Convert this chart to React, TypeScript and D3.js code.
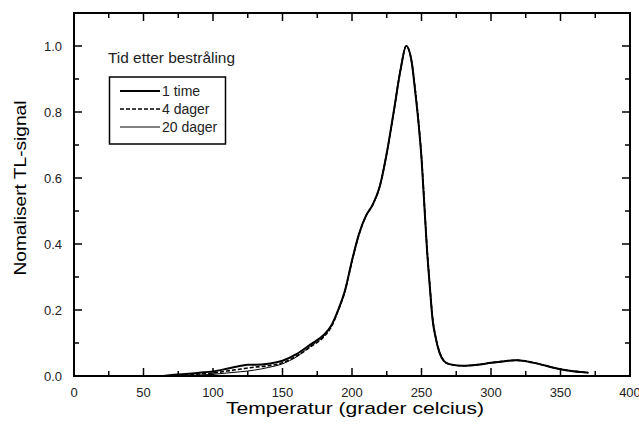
import React from 'react';
import * as d3 from 'd3';

// temperature (°C) and normalised signal
const temps1 = [55, 62, 70, 80, 90, 100, 110, 120, 125, 130, 140, 150, 160, 170, 180, 185, 190, 195, 200, 205, 210, 215, 220, 225, 230, 235, 239, 243, 245, 248, 250, 252, 254, 256, 258, 260, 263, 266, 270, 280, 290, 300, 310, 318, 325, 335, 345, 355, 365, 370];
const time1 = [0, 0, 0.003, 0.006, 0.01, 0.014, 0.022, 0.031, 0.034, 0.034, 0.037, 0.046, 0.066, 0.095, 0.126, 0.152, 0.2, 0.26, 0.35, 0.43, 0.485, 0.52, 0.575, 0.675, 0.8, 0.93, 1.0, 0.95, 0.88, 0.76, 0.66, 0.52, 0.38, 0.27, 0.17, 0.12, 0.07, 0.046, 0.036, 0.031, 0.034, 0.04, 0.045, 0.048, 0.045, 0.036, 0.025, 0.017, 0.012, 0.01];

const temps4 = [62, 70, 80, 90, 100, 110, 120, 125, 130, 140, 150, 160, 170, 180, 185, 190, 195, 200, 205, 210, 215, 220, 225, 230, 235, 239, 243, 245, 248, 250, 252, 254, 256, 258, 260, 263, 266, 270, 280, 290, 300, 310, 318, 325, 335, 345, 355, 365, 370];
const days4 = [0, 0.001, 0.003, 0.006, 0.009, 0.015, 0.021, 0.024, 0.027, 0.031, 0.04, 0.06, 0.088, 0.12, 0.148, 0.198, 0.258, 0.348, 0.428, 0.484, 0.52, 0.575, 0.675, 0.8, 0.93, 1.0, 0.95, 0.885, 0.765, 0.665, 0.525, 0.385, 0.275, 0.175, 0.122, 0.072, 0.047, 0.036, 0.031, 0.034, 0.04, 0.045, 0.048, 0.045, 0.036, 0.025, 0.017, 0.012, 0.01];

const temps20 = [70, 80, 90, 100, 110, 120, 125, 130, 140, 150, 160, 170, 180, 185, 190, 195, 200, 205, 210, 215, 220, 225, 230, 235, 239, 243, 245, 248, 250, 252, 254, 256, 258, 260, 263, 266, 270, 280, 290, 300, 310, 318, 325, 335, 345, 355, 365, 370];
const days20 = [0, 0.001, 0.003, 0.005, 0.009, 0.013, 0.015, 0.018, 0.026, 0.037, 0.058, 0.09, 0.122, 0.15, 0.197, 0.258, 0.348, 0.43, 0.485, 0.52, 0.575, 0.675, 0.8, 0.93, 1.0, 0.95, 0.882, 0.762, 0.662, 0.522, 0.382, 0.272, 0.172, 0.12, 0.07, 0.046, 0.036, 0.031, 0.034, 0.04, 0.045, 0.048, 0.045, 0.036, 0.025, 0.017, 0.012, 0.01];

const xTicks = [0, 50, 100, 150, 200, 250, 300, 350, 400];
const xMinor = [25, 75, 125, 175, 225, 275, 325, 375];
const yTicks = [0, 0.2, 0.4, 0.6, 0.8, 1.0];
const yMinor = [0.1, 0.3, 0.5, 0.7, 0.9];

const legendTitle = 'Tid etter bestråling';
const seriesNames = ['1 time', '4 dager', '20 dager'];

const FONT = '"Liberation Sans", Arial, sans-serif';

export default function App() {
  const W = 639, H = 432;
  const m = { left: 74, right: 9, top: 13, bottom: 56 };

  const x = d3.scaleLinear().domain([0, 400]).range([m.left, W - m.right]);
  const y = d3.scaleLinear().domain([0, 1.1]).range([H - m.bottom, m.top]);

  const line = d3.line<[number, number]>()
    .x(d => x(d[0]))
    .y(d => y(d[1]))
    .curve(d3.curveMonotoneX);

  const series = [
    { pts: temps1.map((t, i) => [t, time1[i]] as [number, number]), width: 2, dash: undefined },
    { pts: temps4.map((t, i) => [t, days4[i]] as [number, number]), width: 1.6, dash: '4,2' },
    { pts: temps20.map((t, i) => [t, days20[i]] as [number, number]), width: 1, dash: undefined },
  ];

  const x0 = x(0), x1 = x(400), y0 = y(0), y1 = y(1.1);
  const major = 8, minor = 5;

  return (
    <svg width={W} height={H} style={{ position: 'absolute', left: 0, top: 0, background: '#fff' }}
      fontFamily={FONT}>
      {/* curves */}
      {series.map((s, i) => (
        <path key={i} d={line(s.pts) || ''} fill="none" stroke="#000"
          strokeWidth={s.width} strokeDasharray={s.dash} />
      ))}

      {/* ticks, all inward on the four sides */}
      <g stroke="#000" strokeWidth={1.5}>
        {xTicks.map(t => (
          <g key={'xt' + t}>
            <line x1={x(t)} x2={x(t)} y1={y0} y2={y0 - major} />
            <line x1={x(t)} x2={x(t)} y1={y1} y2={y1 + major} />
          </g>
        ))}
        {xMinor.map(t => (
          <g key={'xm' + t}>
            <line x1={x(t)} x2={x(t)} y1={y0} y2={y0 - minor} />
            <line x1={x(t)} x2={x(t)} y1={y1} y2={y1 + minor} />
          </g>
        ))}
        {yTicks.map(t => (
          <g key={'yt' + t}>
            <line x1={x0} x2={x0 + major} y1={y(t)} y2={y(t)} />
            <line x1={x1} x2={x1 - major} y1={y(t)} y2={y(t)} />
          </g>
        ))}
        {yMinor.map(t => (
          <g key={'ym' + t}>
            <line x1={x0} x2={x0 + minor} y1={y(t)} y2={y(t)} />
            <line x1={x1} x2={x1 - minor} y1={y(t)} y2={y(t)} />
          </g>
        ))}
      </g>

      {/* frame */}
      <rect x={x0} y={y1} width={x1 - x0} height={y0 - y1} fill="none" stroke="#000" strokeWidth={2} />

      {/* tick labels */}
      <g fontSize={13} fill="#222">
        {xTicks.map(t => (
          <text key={'xl' + t} x={x(t)} y={y0 + 21} textAnchor="middle">{t}</text>
        ))}
        {yTicks.map(t => (
          <text key={'yl' + t} x={x0 - 12} y={y(t) + 5} textAnchor="end">{d3.format('.1f')(t)}</text>
        ))}
      </g>

      {/* axis titles */}
      <text x={355} y={414} textAnchor="middle" fontSize={17} fill="#000"
        textLength={258} lengthAdjust="spacingAndGlyphs">
        Temperatur (grader celcius)
      </text>
      <text transform="translate(26,188) rotate(-90)" textAnchor="middle" fontSize={17} fill="#000"
        textLength={175} lengthAdjust="spacingAndGlyphs">
        Nomalisert TL-signal
      </text>

      {/* legend */}
      <text x={108} y={63} fontSize={15} fill="#222" textLength={127} lengthAdjust="spacingAndGlyphs">{legendTitle}</text>
      <rect x={109.5} y={77} width={116} height={67} fill="#fff" stroke="#000" strokeWidth={1.5} />
      {seriesNames.map((n, i) => {
        const ly = 91 + i * 18;
        const s = series[i];
        return (
          <g key={n}>
            <line x1={120} x2={160} y1={ly} y2={ly} stroke="#000" strokeWidth={s.width} strokeDasharray={s.dash} />
            <text x={162} y={ly + 5} fontSize={14} fill="#222">{n}</text>
          </g>
        );
      })}
    </svg>
  );
}
